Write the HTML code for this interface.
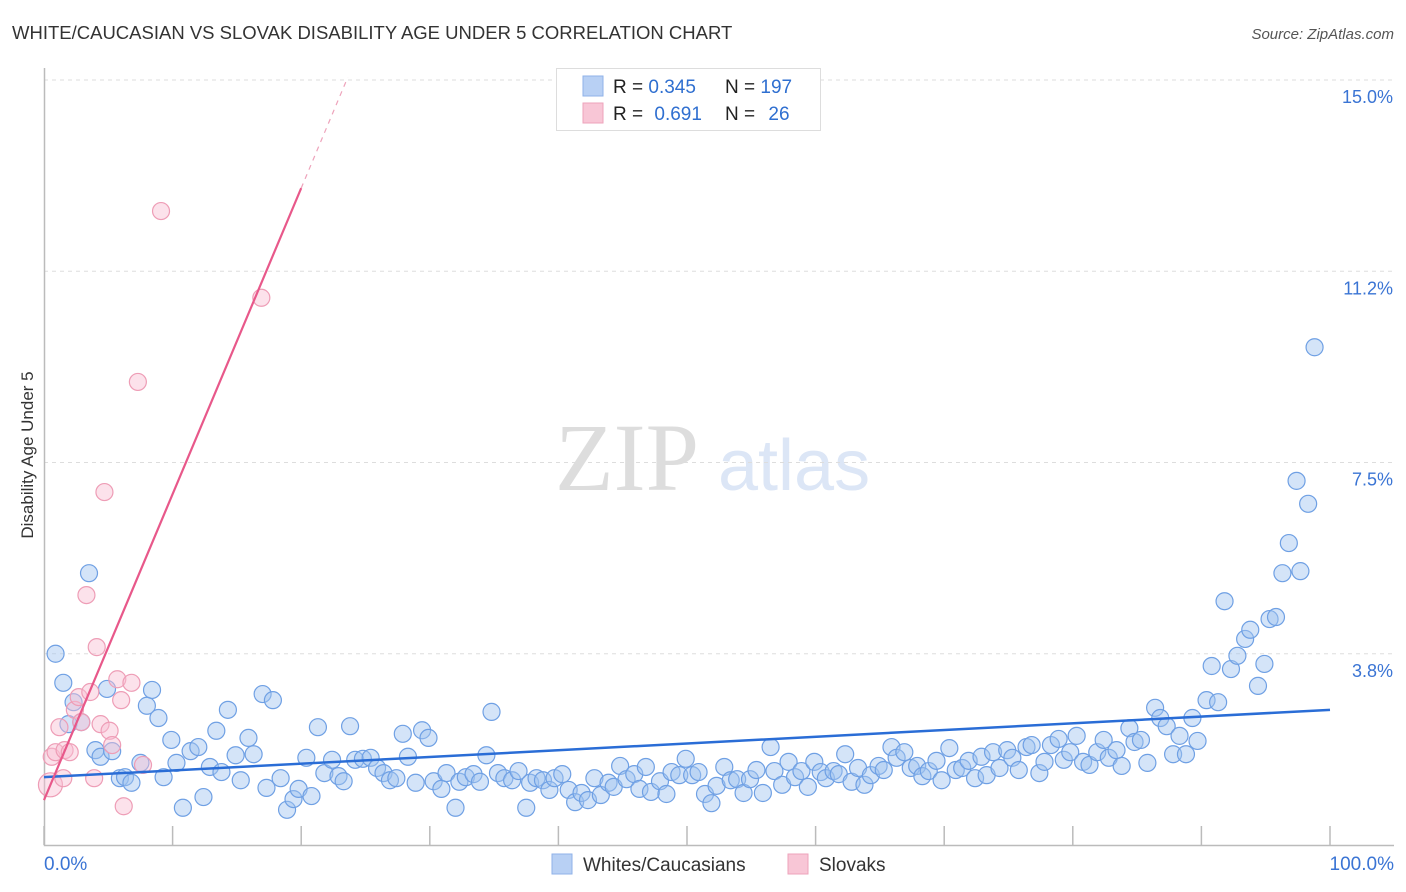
<!DOCTYPE html>
<html><head><meta charset="utf-8"><style>
body{margin:0;background:#fff;font-family:"Liberation Sans",sans-serif}
svg{display:block}
</style></head><body>
<svg id="chart" width="1406" height="892" xmlns="http://www.w3.org/2000/svg">
<text x="12" y="39" font-size="18.5" fill="#333" font-family="Liberation Sans">WHITE/CAUCASIAN VS SLOVAK DISABILITY AGE UNDER 5 CORRELATION CHART</text>
<text x="1394" y="39" font-size="15" fill="#555" font-style="italic" text-anchor="end">Source: ZipAtlas.com</text>
<text x="555" y="490" font-size="96" fill="#ddd" font-family="Liberation Serif">ZIP</text>
<text x="718" y="490" font-size="72" fill="#dce6f6">atlas</text>
<text transform="translate(33,455) rotate(-90)" font-size="17" fill="#333" text-anchor="middle">Disability Age Under 5</text>
<g id="grid"></g>
<g id="axes"></g>
<g id="points"></g>
<g id="lines"></g>
<g>
<rect x="556.5" y="68.5" width="264" height="62" fill="#fff" stroke="#ddd"/>
<rect x="583" y="76" width="20" height="20" fill="#b8d0f4" stroke="#8fb2e8"/>
<rect x="583" y="103" width="20" height="20" fill="#f8c6d6" stroke="#eea3bb"/>
<text x="613" y="93" font-size="19" fill="#222">R = <tspan fill="#2f6fd0">0.345</tspan></text>
<text x="725" y="93" font-size="19" fill="#222">N = <tspan fill="#2f6fd0">197</tspan></text>
<text x="613" y="120" font-size="19" fill="#222">R = <tspan fill="#2f6fd0" dx="6">0.691</tspan></text>
<text x="725" y="120" font-size="19" fill="#222">N = <tspan fill="#2f6fd0" dx="8">26</tspan></text>
</g>
<g>
<rect x="552" y="854" width="20" height="20" fill="#b8d0f4" stroke="#8fb2e8"/>
<text x="583" y="871" font-size="19" fill="#333">Whites/Caucasians</text>
<rect x="788" y="854" width="20" height="20" fill="#f8c6d6" stroke="#eea3bb"/>
<text x="819" y="871" font-size="19" fill="#333">Slovaks</text>
</g>
<text x="44" y="870" font-size="19" fill="#3a74d4">0.0%</text>
<text x="1394" y="870" font-size="19" fill="#3a74d4" text-anchor="end">100.0%</text>
</svg>
<script>
const yTicks=[3.75,7.5,11.25,15];
const yTickLabels=["3.8%","7.5%","11.2%","15.0%"];
const xTicks=[0,10,20,30,40,50,60,70,80,90,100];
const whiteX=[0.9,1.5,2.3,1.9,2.9,3.5,4.0,4.4,4.9,5.3,5.9,6.3,6.8,7.5,8.0,8.4,8.9,9.3,9.9,10.3,10.8,11.4,12.0,12.4,12.9,13.4,13.8,14.3,14.9,15.3,15.9,16.3,17.0,17.3,17.8,18.4,18.9,19.4,19.8,20.4,20.8,21.3,21.8,22.4,22.9,23.3,23.8,24.2,24.8,25.4,25.9,26.4,26.9,27.4,27.9,28.3,28.9,29.4,29.9,30.3,30.9,31.3,32.0,32.3,32.8,33.4,33.9,34.4,34.8,35.3,35.8,36.4,36.9,37.5,37.8,38.3,38.8,39.3,39.7,40.3,40.8,41.3,41.8,42.3,42.8,43.3,43.9,44.3,44.8,45.3,45.9,46.3,46.8,47.2,47.9,48.4,48.8,49.4,49.9,50.4,50.9,51.4,51.9,52.3,52.9,53.4,53.9,54.4,54.9,55.4,55.9,56.5,56.8,57.4,57.9,58.4,58.9,59.4,59.9,60.4,60.8,61.4,61.8,62.3,62.8,63.3,63.8,64.3,64.9,65.3,65.9,66.3,66.9,67.4,67.9,68.3,68.8,69.4,69.8,70.4,70.9,71.4,71.9,72.4,72.9,73.3,73.8,74.3,74.9,75.3,75.8,76.4,76.8,77.4,77.8,78.3,78.9,79.3,79.8,80.3,80.8,81.3,81.9,82.4,82.8,83.4,83.8,84.4,84.8,85.3,85.8,86.4,86.8,87.3,87.8,88.3,88.8,89.3,89.7,90.4,90.8,91.3,91.8,92.3,92.8,93.4,93.8,94.4,94.9,95.3,95.8,96.3,96.8,97.4,97.7,98.3,98.8];
const whiteY=[3.75,3.18,2.8,2.37,2.41,5.33,1.86,1.73,3.06,1.84,1.31,1.33,1.22,1.61,2.73,3.04,2.49,1.33,2.06,1.61,0.73,1.84,1.92,0.94,1.53,2.24,1.43,2.65,1.76,1.27,2.10,1.78,2.96,1.12,2.84,1.31,0.69,0.90,1.10,1.71,0.96,2.31,1.41,1.67,1.35,1.25,2.33,1.67,1.69,1.71,1.51,1.41,1.27,1.31,2.18,1.73,1.22,2.25,2.10,1.25,1.10,1.41,0.73,1.24,1.33,1.39,1.24,1.76,2.61,1.41,1.31,1.27,1.45,0.73,1.22,1.31,1.27,1.08,1.31,1.39,1.08,0.84,1.02,0.88,1.31,0.98,1.22,1.14,1.55,1.29,1.39,1.10,1.53,1.04,1.25,1.00,1.43,1.37,1.69,1.37,1.43,1.00,0.82,1.16,1.53,1.27,1.29,1.02,1.29,1.47,1.02,1.92,1.45,1.18,1.63,1.33,1.45,1.14,1.63,1.43,1.31,1.45,1.39,1.78,1.24,1.51,1.18,1.37,1.55,1.47,1.92,1.71,1.82,1.51,1.55,1.35,1.45,1.65,1.27,1.90,1.47,1.51,1.65,1.31,1.73,1.37,1.82,1.51,1.86,1.71,1.47,1.92,1.96,1.41,1.63,1.96,2.08,1.67,1.82,2.14,1.63,1.57,1.82,2.06,1.71,1.86,1.55,2.29,2.02,2.06,1.61,2.69,2.49,2.33,1.78,2.14,1.78,2.49,2.04,2.84,3.51,2.80,4.78,3.45,3.71,4.04,4.22,3.12,3.55,4.43,4.47,5.33,5.92,7.14,5.37,6.69,9.76];
const slovakX=[0.5,0.6,0.9,1.2,1.6,1.5,2.0,2.4,2.7,2.9,3.3,3.6,3.9,4.1,4.4,4.7,5.1,5.3,5.7,6.0,6.2,6.8,7.3,7.7,9.1,16.9];
const slovakY=[1.18,1.73,1.82,2.31,1.86,1.31,1.82,2.65,2.90,2.41,4.90,3.00,1.31,3.88,2.37,6.92,2.24,1.96,3.25,2.84,0.76,3.18,9.08,1.57,12.43,10.73];
const whiteTrend=[1.33,2.65];
const slovakTrend=[0.88,12.88];

const NS="http://www.w3.org/2000/svg";
const X0=44,X1=1330,Y0=845,PX=51.0;
const xs=v=>X0+(X1-X0)*v/100;
const ys=v=>Y0-v*PX;
function mk(tag,attrs,parent){const e=document.createElementNS(NS,tag);for(const k in attrs)e.setAttribute(k,attrs[k]);parent.appendChild(e);return e;}
const grid=document.getElementById('grid'),axes=document.getElementById('axes'),pts=document.getElementById('points'),lines=document.getElementById('lines');
yTicks.forEach((t,i)=>{
  const l=mk('line',{x1:X0,x2:1394,y1:ys(t),y2:ys(t),stroke:'#ddd','stroke-dasharray':'4,4'},grid);
  
  
  const tx=mk('text',{x:1393,y:ys(t)+23,'font-size':18,fill:'#3a74d4','text-anchor':'end'},grid);
  tx.textContent=yTickLabels[i];
  
  
});
const ax=mk('path',{d:`M${X0+0.5},68 V${Y0+0.5} H1394`,stroke:'#bbb',fill:'none','stroke-width':1.5},axes);


xTicks.forEach(t=>{
  const l=mk('line',{x1:xs(t),x2:xs(t),y1:826,y2:Y0,stroke:'#bbb','stroke-width':1.5},axes);
  
  
});
whiteX.forEach((x,i)=>{
  const c=mk('circle',{cx:xs(x),cy:ys(whiteY[i]),r:8.5,fill:'rgba(160,196,240,0.45)',stroke:'#6fa0e4','stroke-width':1.2},pts);
  
  
});
slovakX.forEach((x,i)=>{
  const c=mk('circle',{cx:xs(x),cy:ys(slovakY[i]),r:i===0?12:8.5,fill:'rgba(248,190,210,0.45)',stroke:'#ee9db6','stroke-width':1.2},pts);
  
  
});
const wl=mk('line',{x1:xs(0),y1:ys(whiteTrend[0]),x2:xs(100),y2:ys(whiteTrend[1]),stroke:'#2a6dd6','stroke-width':2.5},lines);


const slope=(slovakTrend[1]-slovakTrend[0])/20;
const sl=mk('line',{x1:xs(0),y1:ys(slovakTrend[0]),x2:xs(20),y2:ys(slovakTrend[1]),stroke:'#e8588a','stroke-width':2.2},lines);


const xe=(15.05-slovakTrend[0])/slope;
const sd=mk('line',{x1:xs(20),y1:ys(slovakTrend[1]),x2:xs(xe),y2:ys(15.05),stroke:'#eea3bb','stroke-width':1.2,'stroke-dasharray':'5,5'},lines);


</script>
</body></html>
